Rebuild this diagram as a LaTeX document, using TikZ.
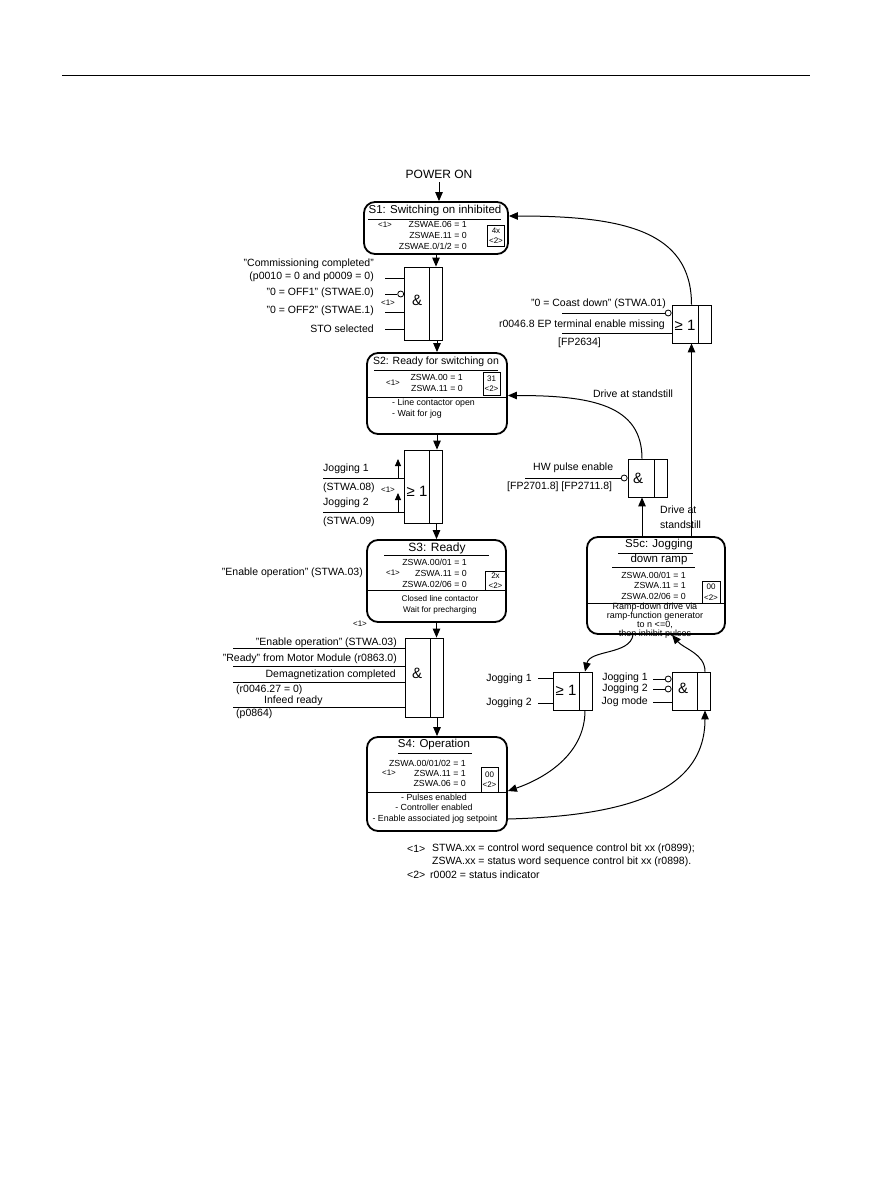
\documentclass[tikz,border=0pt]{standalone}
\usepackage{fontspec}
\setmainfont{Liberation Sans}
\usetikzlibrary{arrows.meta,positioning,calc}

\begin{document}
\begin{tikzpicture}[x=1pt, y=-1pt,
    every node/.style={font=\fontsize{10.5}{12}\selectfont, inner sep=0pt},
    state/.style={rectangle, draw, line width=1.8pt, rounded corners=11pt},
    gate/.style={rectangle, draw, line width=0.8pt, minimum width=38pt,
        path picture={\draw[line width=0.8pt]
            ([xshift=-13pt]path picture bounding box.north east) --
            ([xshift=-13pt]path picture bounding box.south east);}},
    gsym/.style={font=\fontsize{15}{15}\selectfont},
    title/.style={font=\fontsize{11.5}{13}\selectfont},
    zsw/.style={font=\fontsize{8.8}{10.5}\selectfont, anchor=east},
    info/.style={font=\fontsize{8.8}{10.5}\selectfont},
    ref/.style={font=\fontsize{8}{9}\selectfont},
    numbox/.style={rectangle, draw, line width=0.8pt, align=center,
        font=\fontsize{8}{10.5}\selectfont},
    arr/.style={-{Triangle[length=9pt, width=7.5pt]}, line width=1pt},
    inp/.style={line width=0.9pt},
    neg/.style={circle, draw, line width=0.8pt, fill=white, minimum size=6pt},
]
\useasboundingbox (0,0) rectangle (893,1191);
\draw[line width=0.6pt] (62,75) -- (810,75);

% S1
\node[font=\fontsize{12}{14}\selectfont] (pon) at (439,174) {POWER ON};
\node[state, minimum width=144pt, minimum height=52pt] (S1) at (436,228) {};
\node[title] (S1t) at (435,211) {S1: Switching on inhibited};
\draw[line width=0.9pt] (368,219) -- (501,219);
\node[ref] (S1r) at (385,225) {<1>};
\node[zsw] (S1z1) at (467,224) {ZSWAE.06 = 1};
\node[zsw] (S1z2) at (467,235) {ZSWAE.11 = 0};
\node[zsw] (S1z3) at (467,246) {ZSWAE.0/1/2 = 0};
\node[numbox, minimum width=17pt, minimum height=21pt] (S1n) at (496,235.5) {4x\\<2>};
\draw[arr] ([yshift=-4pt]pon.south) -- (pon.south |- S1.north);

% AND gate to S2
\node[gate, minimum height=73pt] (G1) at (423.5,303.5) {};
\node[gsym] (G1s) at (417,300) {\&};
\node[ref] (G1r) at (388,303) {<1>};
\node[anchor=east] (G1l1) at (374,264) {"Commissioning completed"};
\node[anchor=east] (G1l2) at (374,277) {(p0010 = 0 and p0009 = 0)};
\node[anchor=east] (G1l3) at (374,293) {"0 = OFF1" (STWAE.0)};
\node[anchor=east] (G1l4) at (374,311) {"0 = OFF2" (STWAE.1)};
\node[anchor=east] (G1l5) at (374,329) {STO selected};
\coordinate (G1a) at (385,278);
\coordinate (G1b) at (385,294);
\coordinate (G1c) at (385,312);
\coordinate (G1d) at (385,329);
\node[neg, anchor=east] (G1n) at (G1.west |- G1b) {};
\draw[inp] (G1a) -- (G1a -| G1.west);
\draw[inp] (G1b) -- (G1n.west);
\draw[inp] (G1c) -- (G1c -| G1.west);
\draw[inp] (G1d) -- (G1d -| G1.west);
\draw[arr] (S1.south) -- (S1.south |- G1.north);

% S2
\node[state, minimum width=140pt, minimum height=81pt] (S2) at (437,393.5) {};
\node[title, font=\fontsize{10.5}{12}\selectfont] (S2t) at (436,362) {S2: Ready for switching on};
\draw[line width=0.9pt] (374,370) -- (498,370);
\node[ref] (S2r) at (393,383) {<1>};
\node[zsw] (S2z1) at (463,377) {ZSWA.00 = 1};
\node[zsw] (S2z2) at (463,388) {ZSWA.11 = 0};
\node[numbox, minimum width=17pt, minimum height=23pt] (S2n) at (491.5,383.5) {31\\<2>};
\draw[line width=1pt] (S2.west |- 0,397) -- (S2.east |- 0,397);
\node[info, anchor=west] (S2i1) at (392,403) {- Line contactor open};
\node[info, anchor=west] (S2i2) at (392,414) {- Wait for jog};
\draw[arr] (G1.south -| S2.north) -- (S2.north);

% OR gate to S3
\node[gate, minimum height=73pt] (G2) at (423.5,486.5) {};
\node[gsym] (G2s) at (417,491) {≥ 1};
\node[ref] (G2r) at (388,490) {<1>};
\node[anchor=west] (G2l1) at (323,469) {Jogging 1};
\node[anchor=west] (G2l2) at (323,488) {(STWA.08)};
\node[anchor=west] (G2l3) at (323,503) {Jogging 2};
\node[anchor=west] (G2l4) at (323,522) {(STWA.09)};
\coordinate (G2a) at (323,478);
\coordinate (G2b) at (323,512);
\draw[inp] (G2a) -- (G2a -| G2.west);
\draw[inp] (G2b) -- (G2b -| G2.west);
\draw[-{Triangle[length=7pt, width=6pt]}, line width=0.9pt] (398,478) -- (398,459);
\draw[-{Triangle[length=7pt, width=6pt]}, line width=0.9pt] (398,512) -- (398,493);
\draw[arr] (S2.south) -- (S2.south |- G2.north);

% S3
\node[state, minimum width=139pt, minimum height=82pt] (S3) at (436.5,581) {};
\node[title, font=\fontsize{12}{14}\selectfont] (S3t) at (437,548) {S3: Ready};
\draw[line width=0.9pt] (384,555) -- (489,555);
\node[zsw] (S3z1) at (467,562) {ZSWA.00/01 = 1};
\node[ref] (S3r) at (393,573) {<1>};
\node[zsw] (S3z2) at (467,573) {ZSWA.11 = 0};
\node[zsw] (S3z3) at (467,584) {ZSWA.02/06 = 0};
\node[numbox, minimum width=21pt, minimum height=19pt] (S3n) at (495.5,580.5) {2x\\<2>};
\draw[line width=1pt] (S3.west |- 0,590) -- (S3.east |- 0,590);
\node[info, font=\fontsize{8.2}{10}\selectfont] (S3i1) at (440,599) {Closed line contactor};
\node[info, font=\fontsize{8.2}{10}\selectfont] (S3i2) at (440,610) {Wait for precharging};
\node[anchor=east] (S3l) at (363,573) {"Enable operation" (STWA.03)};
\draw[arr] (G2.south -| S3.north) -- (S3.north);

% AND gate to S4
\node[ref] (G3r) at (360,624) {<1>};
\node[gate, minimum height=79pt] (G3) at (424,677.5) {};
\node[gsym] (G3s) at (417,673) {\&};
\node[anchor=east] (G3l1) at (397,643) {"Enable operation" (STWA.03)};
\node[anchor=east] (G3l2) at (397,659) {"Ready" from Motor Module (r0863.0)};
\node[anchor=east] (G3l3) at (396,675) {Demagnetization completed};
\node[anchor=west] (G3l4) at (236,689.5) {(r0046.27 = 0)};
\node[anchor=west] (G3l5) at (264,701) {Infeed ready};
\node[anchor=west] (G3l6) at (236,714) {(p0864)};
\coordinate (G3a) at (233,648);
\coordinate (G3b) at (233,666);
\coordinate (G3c) at (233,682);
\coordinate (G3d) at (233,707);
\draw[inp] (G3a) -- (G3a -| G3.west);
\draw[inp] (G3b) -- (G3b -| G3.west);
\draw[inp] (G3c) -- (G3c -| G3.west);
\draw[inp] (G3d) -- (G3d -| G3.west);
\draw[arr] (S3.south) -- (S3.south |- G3.north);

% S4
\node[state, minimum width=140pt, minimum height=94pt] (S4) at (437,784) {};
\node[title] (S4t) at (434,745) {S4: Operation};
\draw[line width=0.9pt] (398,753) -- (472,753);
\node[zsw] (S4z1) at (466,763) {ZSWA.00/01/02 = 1};
\node[ref] (S4r) at (389,773) {<1>};
\node[zsw] (S4z2) at (466,773) {ZSWA.11 = 1};
\node[zsw] (S4z3) at (466,783) {ZSWA.06 = 0};
\node[numbox, minimum width=17pt, minimum height=25pt] (S4n) at (489.5,779.5) {00\\<2>};
\draw[line width=1pt] (S4.west |- 0,792) -- (S4.east |- 0,792);
\node[info] (S4i1) at (434,797) {- Pulses enabled};
\node[info] (S4i2) at (434,807) {- Controller enabled};
\node[info] (S4i3) at (435,819) {- Enable associated jog setpoint};
\draw[arr] (G3.south -| S4.north) -- (S4.north);

% notes
\node[anchor=west] (N1) at (407,849) {<1>};
\node[anchor=west] (N1t) at (432,849) {STWA.xx = control word sequence control bit xx (r0899);};
\node[anchor=west] (N2t) at (432,862) {ZSWA.xx = status word sequence control bit xx (r0898).};
\node[anchor=west] (N3) at (407,875) {<2>};
\node[anchor=west] (N3t) at (430,875) {r0002 = status indicator};

% OR gate back to S1
\node[gate, minimum height=38pt, minimum width=39pt] (G4) at (691.5,324) {};
\node[gsym] (G4s) at (685,325) {≥ 1};
\node[anchor=east] (G4l1) at (666,304) {"0 = Coast down" (STWA.01)};
\node[anchor=east] (G4l2) at (665,325) {r0046.8 EP terminal enable missing};
\node[anchor=west] (G4l3) at (558,343) {[FP2634]};
\coordinate (G4a) at (562,313);
\coordinate (G4b) at (562,333);
\node[neg, anchor=east] (G4n) at (G4.west |- G4a) {};
\draw[inp] (G4a) -- (G4n.west);
\draw[inp] (G4b) -- (G4b -| G4.west);
\draw[arr] (G4.north) .. controls +(0,-75) and +(112,0) .. ([yshift=12pt]S1.east);

% AND gate back to S2
\node[gate, minimum height=38pt, minimum width=39pt] (G5) at (647.5,478) {};
\node[gsym] (G5s) at (638,478) {\&};
\node[anchor=west] (G5l1) at (533,468) {HW pulse enable};
\node[anchor=west] (G5l2) at (507,487) {[FP2701.8] [FP2711.8]};
\coordinate (G5a) at (525,478);
\node[neg, anchor=east] (G5n) at (G5.west |- G5a) {};
\draw[inp] (G5a) -- (G5n.west);
\coordinate (G5o) at ([xshift=-5.5pt]G5.north);
\coordinate (G5i) at ([xshift=-5.5pt]G5.south);
\draw[arr] (G5o) .. controls +(0,-54) and +(83,0) .. ([yshift=-2pt]S2.east);
\node (G5d) at (633,394) {Drive at standstill};

% S5c
\node[state, minimum width=138pt, minimum height=97pt] (S5) at (656,585.5) {};
\node[title] (S5t1) at (659,545) {S5c: Jogging};
\draw[line width=0.9pt] (618,553) -- (693,553);
\node[title] (S5t2) at (659,560) {down ramp};
\draw[line width=0.9pt] (612,567) -- (695,567);
\node[zsw] (S5z1) at (686,575) {ZSWA.00/01 = 1};
\node[zsw] (S5z2) at (686,585) {ZSWA.11 = 1};
\node[zsw] (S5z3) at (686,596) {ZSWA.02/06 = 0};
\node[numbox, minimum width=18pt, minimum height=22pt] (S5n) at (711,592) {00\\<2>};
\draw[line width=1pt] (S5.west |- 0,603) -- (S5.east |- 0,603);
\node[align=center, font=\fontsize{9}{7.6}\selectfont] (S5i) at (655,620.5)
    {Ramp-down drive via\\ramp-function generator\\to n <=0,\\then inhibit pulses};
\draw[arr] (S5.north -| G4.south) -- (G4.south);
\draw[arr] (S5.north -| G5i) -- (G5i);
\node[anchor=west] (S5d1) at (660,510) {Drive at};
\node[anchor=west] (S5d2) at (660,525) {standstill};

% OR gate to S4
\node[gate, minimum height=38pt, minimum width=39pt] (G6) at (572.5,691) {};
\node[gsym] (G6s) at (566,690) {≥ 1};
\node[anchor=east] (G6l1) at (532,679) {Jogging 1};
\node[anchor=east] (G6l2) at (532,703) {Jogging 2};
\coordinate (G6a) at (538,678);
\coordinate (G6b) at (538,703);
\draw[inp] (G6a) -- (G6a -| G6.west);
\draw[inp] (G6b) -- (G6b -| G6.west);
\draw[arr] ([xshift=-23pt]S5.south) .. controls +(-3,20) and +(5,-22) .. ([xshift=12.5pt]G6.north);
\draw[arr] ([xshift=12.5pt]G6.south) .. controls +(0,45) and +(35,-12) .. ([yshift=-7pt]S4.east);

% AND gate to S5c
\node[gate, minimum height=38pt] (G7) at (691,691) {};
\node[gsym] (G7s) at (683,688) {\&};
\node[anchor=east] (G7l1) at (648,678) {Jogging 1};
\node[anchor=east] (G7l2) at (648,689) {Jogging 2};
\node[anchor=east] (G7l3) at (648,702) {Jog mode};
\coordinate (G7a) at (653,679);
\coordinate (G7b) at (653,689);
\coordinate (G7c) at (653,702);
\node[neg, anchor=east] (G7n1) at (G7.west |- G7a) {};
\node[neg, anchor=east] (G7n2) at (G7.west |- G7b) {};
\draw[inp] (G7a) -- (G7n1.west);
\draw[inp] (G7b) -- (G7n2.west);
\draw[inp] (G7c) -- (G7c -| G7.west);
\draw[arr] ([xshift=14pt]G7.north) .. controls +(0,-18) and +(12,14) .. ([xshift=16pt]S5.south);
\draw[arr] ([yshift=-35pt]S4.east) .. controls +(110,-3) and +(0,85) .. ([xshift=14pt]G7.south);

\end{tikzpicture}
\end{document}
